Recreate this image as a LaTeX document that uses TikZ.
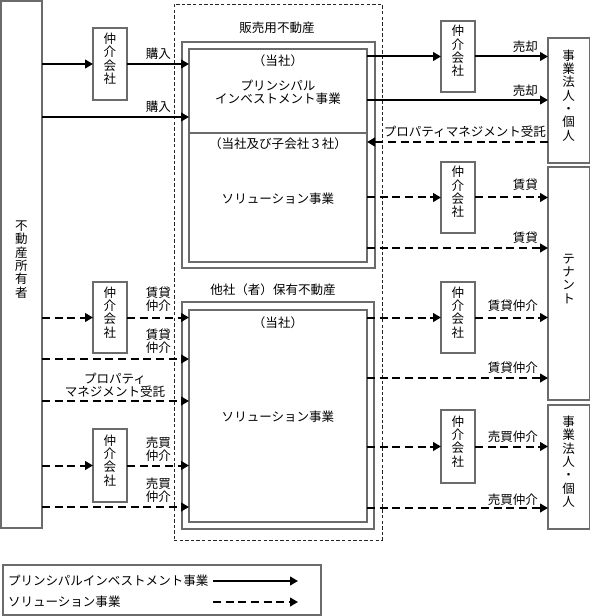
\documentclass[tikz,border=0pt]{standalone}
\usepackage{fontspec}
\newfontfamily\jp{Noto Sans CJK JP}
\usetikzlibrary{arrows.meta,fit}
\begin{document}
\begin{tikzpicture}[x=0.75pt,y=-0.75pt,
  every node/.style={font=\jp\fontsize{9.4}{10}\selectfont, inner sep=0pt, outer sep=0pt, align=center},
  box/.style={draw=black!58, line width=0.8pt, inner sep=0pt},
  frame/.style={draw=black!85, line width=0.6pt, dash pattern=on 2.5pt off 1.7pt, inner sep=0pt},
  sarr/.style={line width=1.5pt, -{Triangle[length=6pt,width=6.5pt]}},
  darr/.style={sarr, dash pattern=on 6pt off 3.5pt},
  lab/.style={anchor=east}
]
\useasboundingbox (0,0) rectangle (590,616);

% dashed frame
\node[frame, fit={(174,4) (382,540)}] (frm) {};

% owner
\node[box, fit={(1,1) (42,528)}] (owner) {不\\動\\産\\所\\有\\者};

% brokers left
\node[box, fit={(93,28) (127,100)}] (br1) {仲\\介\\会\\社};
\node[box, fit={(93,282) (127,353)}] (br2) {仲\\介\\会\\社};
\node[box, fit={(93,429) (127,502)}] (br3) {仲\\介\\会\\社};

% brokers right
\node[box, fit={(441,21) (475,92)}] (rb1) {仲\\介\\会\\社};
\node[box, fit={(441,162) (475,233)}] (rb2) {仲\\介\\会\\社};
\node[box, fit={(441,282) (475,353)}] (rb3) {仲\\介\\会\\社};
\node[box, fit={(441,410) (475,483)}] (rb4) {仲\\介\\会\\社};

% right parties
\node[box, fit={(548,38) (589.5,163)}] (corp1) {事\\業\\法\\人\\・\\個\\人};
\node[box, fit={(548,167) (589.5,400)}] (tenant) {テ\\ナ\\ン\\ト};
\node[box, fit={(548,405) (589.5,529)}] (corp2) {事\\業\\法\\人\\・\\個\\人};

% upper double box
\node[box, fit={(182,42) (375,268)}] (upout) {};
\node[box, fit={(189,49) (367,262)}] (upin) {};
\coordinate (ydiv) at (0,133);
\draw[draw=black!58, line width=0.8pt] (upin.west |- ydiv) -- (upin.east |- ydiv);
\node (t1) at (277,28) {販売用不動産};
\node (t2) at (278,61) {（当社）};
\node (t3) at (278,92) {プリンシパル\\インベストメント事業};
\node (t4) at (278,144) {（当社及び子会社３社）};
\node (t5) at (278,199) {ソリューション事業};

% lower double box
\node[box, fit={(182,302) (374,529)}] (loout) {};
\node[box, fit={(189,310) (367,522)}] (loin) {};
\node (t6) at (273,290) {他社（者）保有不動産};
\node (t7) at (278,323) {（当社）};
\node (t8) at (278,417) {ソリューション事業};

% y levels
\coordinate (y117) at (0,117);
\coordinate (y100) at (0,100);
\coordinate (y142) at (0,142);
\coordinate (y248) at (0,248);
\coordinate (y359) at (0,359);
\coordinate (y401) at (0,401);
\coordinate (y507) at (0,507);
\coordinate (y378) at (0,378);
\coordinate (y508) at (0,508);

% upper arrows
\draw[sarr] (owner.east |- br1) -- (br1.west);
\draw[sarr] (br1.east) -- (upin.west |- br1);
\draw[sarr] (owner.east |- y117) -- (upin.west |- y117);
\draw[sarr] (upin.east |- rb1) -- (rb1.west);
\draw[sarr] (rb1.east) -- (corp1.west |- rb1);
\draw[sarr] (upin.east |- y100) -- (corp1.west |- y100);
\draw[darr] (corp1.west |- y142) -- (upin.east |- y142);
\draw[darr] (upin.east |- rb2) -- (rb2.west);
\draw[darr] (rb2.east) -- (tenant.west |- rb2);
\draw[darr] (upin.east |- y248) -- (tenant.west |- y248);

% lower left arrows
\draw[darr] (owner.east |- br2) -- (br2.west);
\draw[darr] (br2.east) -- (loin.west |- br2);
\draw[darr] (owner.east |- y359) -- (loin.west |- y359);
\draw[darr] (owner.east |- y401) -- (loin.west |- y401);
\draw[darr] (owner.east |- br3) -- (br3.west);
\draw[darr] (br3.east) -- (loin.west |- br3);
\draw[darr] (owner.east |- y507) -- (loin.west |- y507);

% lower right arrows
\draw[darr] (loin.east |- rb3) -- (rb3.west);
\draw[darr] (rb3.east) -- (tenant.west |- rb3);
\draw[darr] (loin.east |- y378) -- (tenant.west |- y378);
\draw[darr] (loin.east |- rb4) -- (rb4.west);
\draw[darr] (rb4.east) -- (corp2.west |- rb4);
\draw[darr] (loin.east |- y508) -- (corp2.west |- y508);

% labels left
\node[lab] (l1) at (171,54) {購入};
\node[lab] (l2) at (171,107) {購入};
\node[lab] (l3) at (171,299) {賃貸\\仲介};
\node[lab] (l4) at (171,341) {賃貸\\仲介};
\node (l5) at (115,385) {プロパティ\\マネジメント受託};
\node[lab] (l6) at (171,449) {売買\\仲介};
\node[lab] (l7) at (171,490) {売買\\仲介};

% labels right
\node[lab] (r1) at (538,47) {売却};
\node[lab] (r2) at (538,91) {売却};
\node[lab] (r3) at (546,132) {プロパティマネジメント受託};
\node[lab] (r4) at (538,185) {賃貸};
\node[lab] (r5) at (538,238) {賃貸};
\node[lab] (r6) at (538,306) {賃貸仲介};
\node[lab] (r7) at (538,368) {賃貸仲介};
\node[lab] (r8) at (538,437) {売買仲介};
\node[lab] (r9) at (538,500) {売買仲介};

% legend
\node[box, fit={(3,565) (321,615)}] (legend) {};
\node[anchor=west] (lg1) at (8,581) {プリンシパルインベストメント事業};
\node[anchor=west] (lg2) at (8,602) {ソリューション事業};
\coordinate (la1) at (213,581);
\coordinate (lb1) at (298,581);
\coordinate (la2) at (213,602);
\coordinate (lb2) at (298,602);
\draw[sarr] (la1) -- (lb1);
\draw[darr] (la2) -- (lb2);
\end{tikzpicture}
\end{document}
